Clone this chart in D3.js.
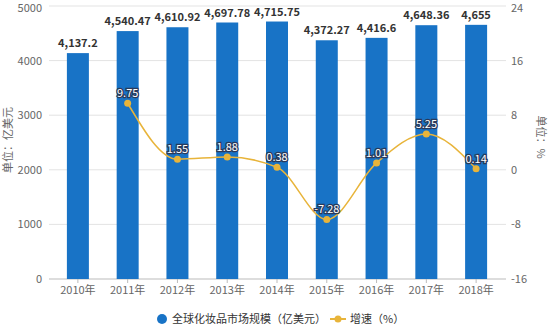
<!DOCTYPE html>
<html><head><meta charset="utf-8">
<script src="https://cdn.jsdelivr.net/npm/d3@7"></script>
<style>body{margin:0;background:#fff}svg{display:block}text{font-family:"Noto Sans CJK SC","Noto Sans",sans-serif}</style>
</head><body><svg id="c" width="550" height="330"></svg>
<script>
const years = ["2010年","2011年","2012年","2013年","2014年","2015年","2016年","2017年","2018年"];
const marketSize = [4137.2,4540.47,4610.92,4697.78,4715.75,4372.27,4416.6,4648.36,4655];
const marketLabels = ["4,137.2","4,540.47","4,610.92","4,697.78","4,715.75","4,372.27","4,416.6","4,648.36","4,655"];
const growth = [null,9.75,1.55,1.88,0.38,-7.28,1.01,5.25,0.14];
const leftTicks = [0,1000,2000,3000,4000,5000];
const rightTicks = [-16,-8,0,8,16,24];
const legendNames = ["全球化妆品市场规模（亿美元）","增速（%）"];

const svg = d3.select("#c");
const L = 53, R = 501, T = 6, B = 279;
const x = d3.scaleBand().domain(years).range([L,R]);
const yL = d3.scaleLinear().domain([0,5000]).range([B,T]);
const yR = d3.scaleLinear().domain([-16,24]).range([B,T]);
const barColor = "#1873c6", lineColor = "#e8b43a";

// grid
svg.append("g").selectAll("line").data(leftTicks).join("line")
  .attr("x1",49).attr("x2",506).attr("y1",d=>yL(d)).attr("y2",d=>yL(d))
  .attr("stroke",d=>d===0?"#bbb":"#e3e3e3").attr("stroke-width",1);

// left axis labels (kept inside the top edge)
svg.append("g").selectAll("text").data(leftTicks).join("text")
  .attr("x",42).attr("y",d=>Math.max(yL(d)+4,12)).attr("text-anchor","end")
  .attr("font-size",11).attr("fill","#666").text(d=>d);
// right axis labels
svg.append("g").selectAll("text").data(rightTicks).join("text")
  .attr("x",511).attr("y",d=>Math.max(yR(d)+4,12)).attr("text-anchor","start")
  .attr("font-size",11).attr("fill","#666").text(d=>d);

// axis titles
svg.append("text").attr("transform","translate(12,140) rotate(-90)").attr("text-anchor","middle")
  .attr("font-size",11).attr("fill","#666").text("单位：亿美元");
svg.append("text").attr("transform","translate(537,137) rotate(90)").attr("text-anchor","middle")
  .attr("font-size",11).attr("fill","#666").text("单位：%");

// x ticks & labels
svg.append("g").selectAll("line").data(years).join("line")
  .attr("x1",d=>x(d)+x.bandwidth()/2).attr("x2",d=>x(d)+x.bandwidth()/2)
  .attr("y1",B).attr("y2",B+4).attr("stroke","#bbb");
svg.append("g").selectAll("text").data(years).join("text")
  .attr("x",d=>x(d)+x.bandwidth()/2).attr("y",B+15).attr("text-anchor","middle")
  .attr("font-size",11).attr("fill","#666").text(d=>d);

// bars
const bw = 22;
svg.append("g").selectAll("rect").data(marketSize).join("rect")
  .attr("x",(d,i)=>x(years[i])+x.bandwidth()/2-bw/2).attr("width",bw)
  .attr("y",d=>yL(d)).attr("height",d=>B-yL(d)).attr("fill",barColor);
svg.append("g").selectAll("text").data(marketSize).join("text")
  .attr("x",(d,i)=>x(years[i])+x.bandwidth()/2).attr("y",d=>yL(d)-6)
  .attr("text-anchor","middle").attr("font-size",11).attr("font-weight","bold").attr("fill","#333")
  .text((d,i)=>marketLabels[i]);

// line
const pts = growth.map((v,i)=>({v,i})).filter(d=>d.v!==null);
const line = d3.line().x(d=>x(years[d.i])+x.bandwidth()/2).y(d=>yR(d.v)).curve(d3.curveMonotoneX);
svg.append("path").datum(pts).attr("d",line).attr("fill","none").attr("stroke",lineColor).attr("stroke-width",1.5);
svg.append("g").selectAll("circle").data(pts).join("circle")
  .attr("cx",d=>x(years[d.i])+x.bandwidth()/2).attr("cy",d=>yR(d.v)).attr("r",3.5).attr("fill",lineColor);
svg.append("g").selectAll("text").data(pts).join("text")
  .attr("x",d=>x(years[d.i])+x.bandwidth()/2).attr("y",d=>yR(d.v)-6)
  .attr("text-anchor","middle").attr("font-size",11).attr("fill","#fff")
  .attr("stroke","#2a3a5a").attr("stroke-width",2.5).attr("paint-order","stroke")
  .text(d=>d.v.toFixed(2));

// legend
const lg = svg.append("g");
lg.append("circle").attr("cx",162).attr("cy",319).attr("r",5).attr("fill",barColor);
lg.append("text").attr("x",172).attr("y",323).attr("font-size",11).attr("fill","#333").text(legendNames[0]);
lg.append("line").attr("x1",330).attr("x2",346).attr("y1",319).attr("y2",319).attr("stroke",lineColor).attr("stroke-width",2);
lg.append("circle").attr("cx",338).attr("cy",319).attr("r",3.5).attr("fill",lineColor);
lg.append("text").attr("x",350).attr("y",323).attr("font-size",11).attr("fill","#333").text(legendNames[1]);
</script></body></html>
